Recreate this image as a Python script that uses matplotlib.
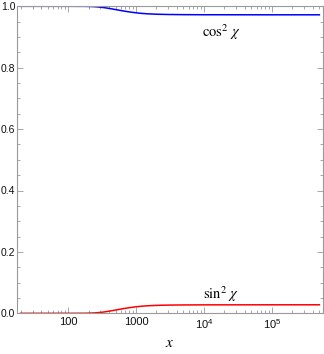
import matplotlib
matplotlib.use("Agg")
import matplotlib.pyplot as plt
from matplotlib.ticker import FixedLocator, FixedFormatter, LogLocator, MultipleLocator, NullFormatter

plt.rcParams['font.family'] = ['Liberation Sans', 'DejaVu Sans']
plt.rcParams['mathtext.fontset'] = 'stix'

# data
x_vals = [20, 100, 180, 220, 260, 300, 350, 400, 450, 500, 600, 700, 800, 1000,
          1200, 1500, 2000, 3000, 5000, 10000, 100000, 500000]
sin2_vals = [0.0, 0.0, 0.0002, 0.0007, 0.0016, 0.0029, 0.0048, 0.0068, 0.0088,
             0.0106, 0.0138, 0.0163, 0.0183, 0.0212, 0.0230, 0.0246, 0.0258,
             0.0267, 0.0272, 0.0275, 0.0277, 0.0277]
cos2_vals = [1.0, 1.0, 0.9998, 0.9993, 0.9984, 0.9971, 0.9952, 0.9932, 0.9912,
             0.9894, 0.9862, 0.9837, 0.9817, 0.9788, 0.9770, 0.9754, 0.9742,
             0.9733, 0.9728, 0.9725, 0.9723, 0.9723]
xtick_pos = [100, 1000, 10000, 100000]
xtick_labels = ['100', '1000', r'$\mathregular{10^4}$', r'$\mathregular{10^5}$']
ytick_pos = [0.0, 0.2, 0.4, 0.6, 0.8, 1.0]
ytick_labels = ['0.0', '0.2', '0.4', '0.6', '0.8', '1.0']

W, H = 324, 354
fig = plt.figure(figsize=(W / 100, H / 100), dpi=100)
l, r, t, b = 17.3, 322.7, 6.3, 313.3
ax = fig.add_axes([l / W, 1 - b / H, (r - l) / W, (b - t) / H])

ax.plot(x_vals, cos2_vals, color='#0000ff', lw=1.1)
ax.plot(x_vals, sin2_vals, color='#ff0000', lw=1.1)

ax.set_xscale('log')
ax.set_xlim(17.9, 5.6e5)
ax.set_ylim(0.0, 1.0)

ax.xaxis.set_major_locator(FixedLocator(xtick_pos))
ax.xaxis.set_major_formatter(FixedFormatter(xtick_labels))
ax.xaxis.set_minor_locator(LogLocator(base=10, subs=range(2, 10)))
ax.xaxis.set_minor_formatter(NullFormatter())
ax.yaxis.set_major_locator(FixedLocator(ytick_pos))
ax.yaxis.set_major_formatter(FixedFormatter(ytick_labels))
ax.yaxis.set_minor_locator(MultipleLocator(0.05))

frame_col = '#9a9a9a'
for s in ax.spines.values():
    s.set_color(frame_col)
    s.set_linewidth(0.8)
ax.tick_params(which='both', direction='in', top=True, right=True,
               color=frame_col, width=0.6, labelcolor='#111111')
ax.tick_params(axis='x', which='major', length=4.5, pad=3, labelsize=8)
ax.tick_params(axis='y', which='major', length=4.5, pad=1.5, labelsize=7.5)
ax.tick_params(which='minor', length=2.5)

ax.text(0.667, 0.915, r'$\cos^2\,\chi$', fontsize=10.5, ha='center', va='center',
        transform=ax.transAxes)
ax.text(0.667, 0.063, r'$\sin^2\,\chi$', fontsize=10.5, ha='center', va='center',
        transform=ax.transAxes)

fig.text(170 / W, 1 - 343 / H, r'$x$', fontsize=11, ha='center', va='center')

fig.savefig('out.png', dpi=100)
